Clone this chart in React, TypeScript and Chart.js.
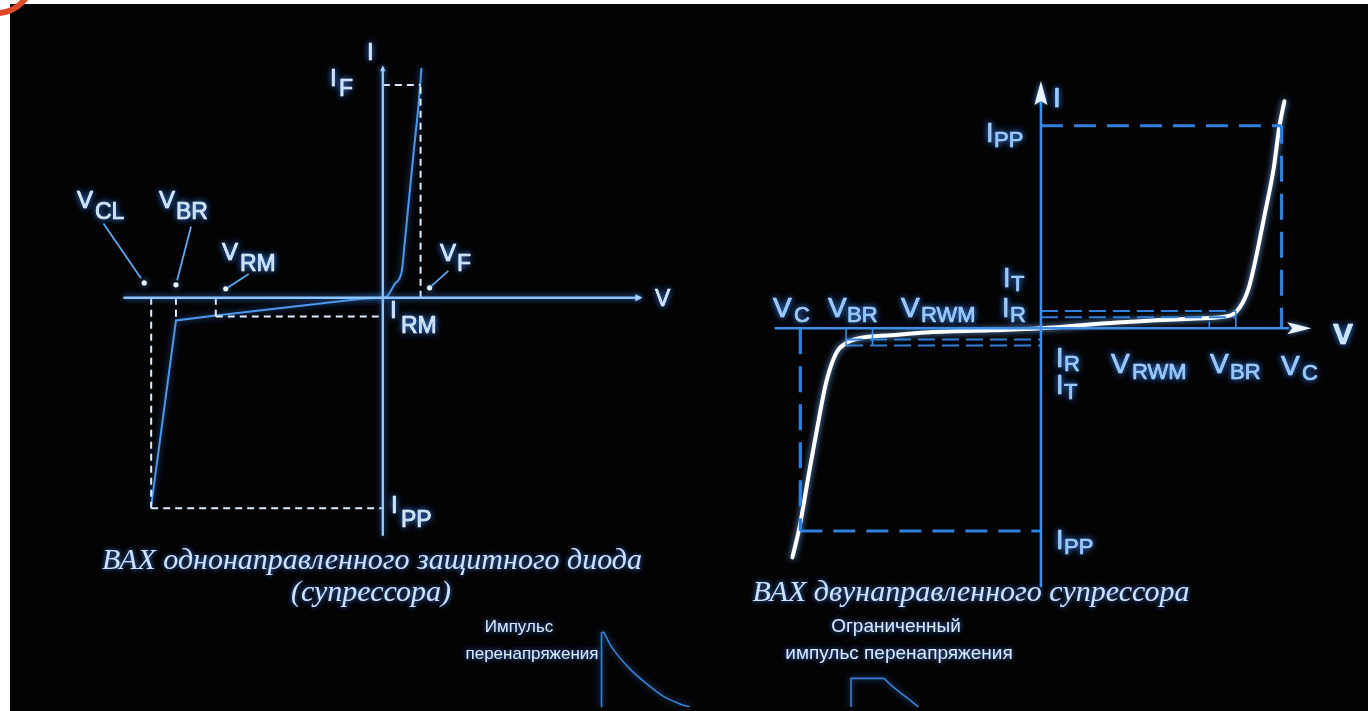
import React, { useEffect, useRef } from "react";
import { Chart, registerables } from "chart.js";

Chart.register(...registerables);

// ---------------- data: unidirectional suppressor (left diagram) ----------------
const uniVoltNames = ["CL", "BR", "RM", "F"];
const uniVoltValues = [-10, -8.93, -7.21, 1.63];
const uniCurrNames = ["F", "RM", "PP"];
const uniCurrValues = [10.1, -0.89, -10];
const uniReverseV = [-10, -8.93, -7.21, -0.9, 0];
const uniReverseI = [-9.9, -1.08, -0.85, -0.05, 0];
const uniForwardV = [0, 0.09, 0.52, 0.82, 0.94, 1.12, 1.33, 1.55, 1.67];
const uniForwardI = [0, 0, 0.66, 1.27, 2.54, 4.55, 6.9, 9.25, 10.9];
const uniDotV = [-10.3, -8.93, -6.78, 2.02];
const uniDotI = [0.7, 0.61, 0.42, 0.47];
const uniLeaderV = [-12.06, -8.28, -5.79, 2.83];
const uniLeaderI = [3.52, 3.38, 1.13, 1.27];
const uniAxisV = [-11.2, 11.12];
const uniAxisI = [-11.3, 10.9];

// ---------------- data: bidirectional suppressor (right diagram) ----------------
const biVoltNames = ["C", "BR", "RWM"];
const biVoltValues = [10, 8.1, 7.0];
const biCurrNames = ["PP", "T", "R"];
const biCurrValues = [10, 0.85, 0.55];
const biCurveV = [-10.33, -10.04, -9.63, -9.21, -8.93, -8.51, -8.1, -7.56, -6.2, -4.8, -2.07, 0, 3.18, 6.49, 7.85, 8.26, 8.64, 8.97, 9.3, 9.67, 9.92, 10.12];
const biCurveI = [-11.3, -9.85, -7.07, -4.34, -2.68, -1.22, -0.73, -0.49, -0.34, -0.2, -0.1, 0, 0.29, 0.49, 0.63, 1.02, 2.0, 3.66, 5.61, 7.85, 10.0, 11.2];
const biAxisV = [-11.07, 11.24];
const biAxisI = [-12.78, 12.1];

// ---------------- data: surge pulses ----------------
const surgeRiseT = [0, 0, 0.2];
const surgeRiseA = [0, 7.5, 7.6];
const surgeDecayT = [0.2, 1.2, 2.9, 4.6, 6.2, 7.9, 8.9];
const surgeDecayA = [7.6, 5.8, 3.8, 2.3, 1.1, 0.3, 0];
const clampRiseT = [0, 0, 3.3];
const clampRiseA = [-1, 2.9, 2.9];
const clampDecayT = [3.3, 4.5, 5.8, 6.8];
const clampDecayA = [2.9, 1.8, 0.8, 0];

// ---------------- layout ----------------
const PAGE_W = 1368;
const PAGE_H = 711;
const OFFX = 10;
const OFFY = 4;
const W = PAGE_W - OFFX;
const H = PAGE_H - OFFY;

const spanX = (originPage: number, ppu: number) => {
  const o = originPage - OFFX;
  return { min: -o / ppu, max: (W - o) / ppu };
};
const spanY = (originPage: number, ppu: number) => {
  const o = originPage - OFFY;
  return { min: -(H - o) / ppu, max: o / ppu };
};

type Lab = { t: string; s?: string; x: number; y: number; sx?: number; sy?: number; size: number; sub?: number; bold?: boolean; color: string };

const LC = "#e4f1ff";
const RC = "#a9d3ff";
const labels: Lab[] = [
  // left diagram
  { t: "I", x: 367, y: 60, size: 24, color: LC },
  { t: "I", s: "F", x: 330, y: 86, sx: 339, sy: 96, size: 24, sub: 23, color: LC },
  { t: "V", s: "CL", x: 77, y: 208, sx: 95, sy: 219, size: 24, sub: 23, color: LC },
  { t: "V", s: "BR", x: 159, y: 208, sx: 176, sy: 219, size: 24, sub: 23, color: LC },
  { t: "V", s: "RM", x: 222, y: 260, sx: 240, sy: 271, size: 24, sub: 23, color: LC },
  { t: "V", s: "F", x: 440, y: 261, sx: 457, sy: 271, size: 24, sub: 23, color: LC },
  { t: "I", s: "RM", x: 390, y: 318, sx: 401, sy: 333, size: 24, sub: 23, color: LC },
  { t: "I", s: "PP", x: 391, y: 513, sx: 401, sy: 527, size: 24, sub: 23, color: LC },
  { t: "V", x: 655, y: 306, size: 23, color: LC },
  // right diagram
  { t: "I", x: 1053, y: 107, size: 28, color: RC },
  { t: "I", s: "PP", x: 986, y: 142, sx: 994, sy: 147, size: 27, sub: 22, color: RC },
  { t: "I", s: "T", x: 1003, y: 287, sx: 1011, sy: 291, size: 27, sub: 22, color: RC },
  { t: "I", s: "R", x: 1002, y: 317, sx: 1010, sy: 322, size: 27, sub: 22, color: RC },
  { t: "V", s: "C", x: 773, y: 317, sx: 794, sy: 322, size: 28, sub: 22, color: RC },
  { t: "V", s: "BR", x: 828, y: 317, sx: 847, sy: 322, size: 28, sub: 22, color: RC },
  { t: "V", s: "RWM", x: 901, y: 317, sx: 921, sy: 322, size: 28, sub: 22, color: RC },
  { t: "I", s: "R", x: 1056, y: 367, sx: 1064, sy: 371, size: 27, sub: 22, color: RC },
  { t: "I", s: "T", x: 1056, y: 394, sx: 1064, sy: 399, size: 27, sub: 22, color: RC },
  { t: "V", s: "RWM", x: 1111, y: 373, sx: 1132, sy: 379, size: 28, sub: 22, color: RC },
  { t: "V", s: "BR", x: 1210, y: 373, sx: 1230, sy: 379, size: 28, sub: 22, color: RC },
  { t: "V", s: "C", x: 1281, y: 375, sx: 1302, sy: 380, size: 28, sub: 22, color: RC },
  { t: "V", x: 1333, y: 344, size: 30, bold: true, color: "#dff0ff" },
  { t: "I", s: "PP", x: 1056, y: 549, sx: 1064, sy: 554, size: 27, sub: 22, color: RC },
];

type Cap = { t: string; x: number; y: number; font: string; color: string };
const captions: Cap[] = [
  { t: "ВАХ однонаправленного защитного диода", x: 372, y: 569, font: 'italic 30px "Liberation Serif"', color: "#cfe2ff" },
  { t: "(супрессора)", x: 371, y: 601, font: 'italic 30px "Liberation Serif"', color: "#cfe2ff" },
  { t: "ВАХ двунаправленного супрессора", x: 971, y: 601, font: 'italic 30px "Liberation Serif"', color: "#cfe2ff" },
  { t: "Импульс", x: 519, y: 632, font: '17px "Liberation Sans"', color: "#dce9ff" },
  { t: "перенапряжения", x: 532, y: 659, font: '17px "Liberation Sans"', color: "#dce9ff" },
  { t: "Ограниченный", x: 896, y: 632, font: '19px "Liberation Sans"', color: "#dce9ff" },
  { t: "импульс перенапряжения", x: 899, y: 659, font: '19px "Liberation Sans"', color: "#dce9ff" },
];

const pts = (xs: number[], ys: number[]) => xs.map((x, i) => ({ x, y: ys[i] }));
const seg = (x1: number, y1: number, x2: number, y2: number) => [{ x: x1, y: y1 }, { x: x2, y: y2 }];

function line(data: any[], xa: string, ya: string, color: string, width: number, extra: any = {}) {
  return { data, xAxisID: xa, yAxisID: ya, borderColor: color, borderWidth: width, showLine: true, pointRadius: 0, fill: false, tension: 0, ...extra };
}

function buildDatasets() {
  const ds: any[] = [];
  const L = ["xL", "yL"];
  const R = ["xR", "yR"];
  const dashL = { borderDash: [7, 5] };
  const dashColL = "#dcecff";
  // left axes
  ds.push(line(seg(uniAxisV[0], 0, uniAxisV[1], 0), L[0], L[1], "#8cc6ff", 2.4, { glow: "rgba(70,150,255,0.8)" }));
  ds.push(line(seg(0, uniAxisI[0], 0, uniAxisI[1]), L[0], L[1], "#8cc6ff", 2.4, { glow: "rgba(70,150,255,0.8)" }));
  // left dashed guides
  const [vcl, vbr, vrm, vf] = uniVoltValues;
  const [iF, iRM, iPP] = uniCurrValues;
  ds.push(line(seg(vcl, 0, vcl, iPP), L[0], L[1], dashColL, 2, dashL));
  ds.push(line(seg(vcl, iPP, 0, iPP), L[0], L[1], dashColL, 2, dashL));
  ds.push(line(seg(vbr, 0, vbr, uniReverseI[1]), L[0], L[1], dashColL, 2, dashL));
  ds.push(line(seg(vrm, 0, vrm, iRM), L[0], L[1], dashColL, 2, dashL));
  ds.push(line(seg(vrm, iRM, 0, iRM), L[0], L[1], dashColL, 2, dashL));
  ds.push(line(seg(vf, 0, vf, iF), L[0], L[1], dashColL, 2, dashL));
  ds.push(line(seg(0, iF, vf, iF), L[0], L[1], dashColL, 2, dashL));
  // left curve
  ds.push(line(pts(uniReverseV, uniReverseI), L[0], L[1], "#4f97ec", 2, { glow: "rgba(60,140,255,0.7)" }));
  ds.push(line(pts(uniForwardV, uniForwardI), L[0], L[1], "#4f97ec", 2, { cubicInterpolationMode: "monotone", glow: "rgba(60,140,255,0.7)" }));
  // callouts
  uniDotV.forEach((v, i) => {
    ds.push(line(seg(uniLeaderV[i], uniLeaderI[i], v + (uniLeaderV[i] - v) * 0.08, uniDotI[i] + (uniLeaderI[i] - uniDotI[i]) * 0.08), L[0], L[1], "#5da9f2", 1.8));
  });
  ds.push({ data: pts(uniDotV, uniDotI), xAxisID: L[0], yAxisID: L[1], showLine: false, pointRadius: 2.6, pointBorderWidth: 0, pointBackgroundColor: "#e8f4ff", glow: "rgba(90,160,255,0.9)" });

  // right axes
  ds.push(line(seg(biAxisV[0], 0, 10.3, 0), R[0], R[1], "#3d8fea", 2.5));
  ds.push(line(seg(0, biAxisI[0], 0, 11.2), R[0], R[1], "#3d8fea", 2.5));
  const [vc, vbrR, vrwm] = biVoltValues;
  const [ipp, it, ir] = biCurrValues;
  const bigDash = { borderDash: [22, 11] };
  const smallDash = { borderDash: [17, 7] };
  const dashColR = "#2f80db";
  // I_PP / V_C frame
  ds.push(line(seg(0, ipp, vc, ipp), R[0], R[1], dashColR, 3, bigDash));
  ds.push(line(seg(vc, ipp, vc, 0), R[0], R[1], dashColR, 3.2, { borderDash: [26, 12], borderDashOffset: 8 }));
  ds.push(line(seg(-vc, 0, -vc, -ipp), R[0], R[1], dashColR, 3.2, { borderDash: [26, 12] }));
  ds.push(line(seg(-vc, -ipp, 0, -ipp), R[0], R[1], dashColR, 3, bigDash));
  // I_T, I_R
  ds.push(line(seg(0, it, vbrR, it), R[0], R[1], dashColR, 2, smallDash));
  ds.push(line(seg(0, ir, vbrR, ir), R[0], R[1], dashColR, 2, smallDash));
  ds.push(line(seg(-vbrR, -it, 0, -it), R[0], R[1], dashColR, 2, smallDash));
  ds.push(line(seg(-vbrR, -ir, 0, -ir), R[0], R[1], dashColR, 2, smallDash));
  // voltage ticks
  ds.push(line(seg(vbrR, 0, vbrR, it), R[0], R[1], "#3d8fea", 1.6));
  ds.push(line(seg(vrwm, 0, vrwm, ir * 0.6), R[0], R[1], "#3d8fea", 1.6));
  ds.push(line(seg(-vbrR, 0, -vbrR, -it), R[0], R[1], "#3d8fea", 1.6));
  ds.push(line(seg(-vrwm, 0, -vrwm, -it), R[0], R[1], "#3d8fea", 1.6));
  // curve
  ds.push(line(pts(biCurveV, biCurveI), R[0], R[1], "#ffffff", 4, { cubicInterpolationMode: "monotone", borderCapStyle: "round", glow: "rgba(120,180,255,0.9)" }));

  // pulses
  const pc = "#3a7fd3";
  ds.push(line(pts(surgeRiseT, surgeRiseA), "xP", "yP", pc, 1.6, { glow: "rgba(60,130,230,0.8)" }));
  ds.push(line(pts(surgeDecayT, surgeDecayA), "xP", "yP", pc, 1.6, { tension: 0.35, glow: "rgba(60,130,230,0.8)" }));
  ds.push(line(pts(clampRiseT, clampRiseA), "xQ", "yP", pc, 1.6, { glow: "rgba(60,130,230,0.8)" }));
  ds.push(line(pts(clampDecayT, clampDecayA), "xQ", "yP", pc, 1.6, { tension: 0.35, glow: "rgba(60,130,230,0.8)" }));
  return ds;
}

const decoPlugin = {
  id: "deco",
  beforeDraw(chart: any) {
    const ctx = chart.ctx;
    ctx.save();
    ctx.fillStyle = "#030304";
    ctx.fillRect(0, 0, chart.width, chart.height);
    ctx.restore();
  },
  beforeDatasetDraw(chart: any, args: any) {
    const ds = chart.data.datasets[args.index];
    chart.ctx.save();
    if (ds.glow) {
      chart.ctx.shadowColor = ds.glow;
      chart.ctx.shadowBlur = 6;
    }
  },
  afterDatasetDraw(chart: any) {
    chart.ctx.restore();
  },
  afterDatasetsDraw(chart: any) {
    const ctx = chart.ctx;
    const s = chart.scales;
    const px = (ax: string, v: number) => s[ax].getPixelForValue(v);
    ctx.save();
    // left arrows (small)
    ctx.fillStyle = "#a8d4ff";
    ctx.shadowColor = "rgba(70,150,255,0.8)";
    ctx.shadowBlur = 4;
    let tx = px("xL", uniAxisV[1]);
    let ty = px("yL", 0);
    ctx.beginPath();
    ctx.moveTo(tx + 2, ty);
    ctx.lineTo(tx - 5, ty - 3.5);
    ctx.lineTo(tx - 5, ty + 3.5);
    ctx.closePath();
    ctx.fill();
    tx = px("xL", 0);
    ty = px("yL", uniAxisI[1]);
    ctx.beginPath();
    ctx.moveTo(tx, ty - 3);
    ctx.lineTo(tx - 2.5, ty + 3);
    ctx.lineTo(tx + 2.5, ty + 3);
    ctx.closePath();
    ctx.fill();
    // right arrows
    ctx.fillStyle = "#eaf5ff";
    ctx.shadowColor = "rgba(90,160,255,0.9)";
    ctx.shadowBlur = 5;
    tx = px("xR", biAxisV[1]);
    ty = px("yR", 0);
    ctx.beginPath();
    ctx.moveTo(tx, ty);
    ctx.lineTo(tx - 24, ty - 6);
    ctx.lineTo(tx - 19, ty);
    ctx.lineTo(tx - 24, ty + 6);
    ctx.closePath();
    ctx.fill();
    tx = px("xR", 0);
    ty = px("yR", biAxisI[1]);
    ctx.beginPath();
    ctx.moveTo(tx, ty - 2);
    ctx.lineTo(tx - 6.5, ty + 22);
    ctx.lineTo(tx, ty + 18);
    ctx.lineTo(tx + 6.5, ty + 22);
    ctx.closePath();
    ctx.fill();
    ctx.restore();

    // labels
    ctx.save();
    ctx.textBaseline = "alphabetic";
    ctx.textAlign = "left";
    ctx.lineJoin = "round";
    for (const l of labels) {
      ctx.fillStyle = l.color;
      ctx.strokeStyle = l.color;
      ctx.lineWidth = 0.7;
      ctx.shadowColor = "rgba(60,140,255,0.95)";
      ctx.shadowBlur = 6;
      ctx.font = `${l.bold ? "bold " : ""}${l.size}px "Liberation Sans"`;
      ctx.fillText(l.t, l.x - OFFX, l.y - OFFY);
      ctx.strokeText(l.t, l.x - OFFX, l.y - OFFY);
      if (l.s) {
        ctx.font = `${l.sub}px "Liberation Sans"`;
        ctx.fillText(l.s, (l.sx as number) - OFFX, (l.sy as number) - OFFY);
        ctx.strokeText(l.s, (l.sx as number) - OFFX, (l.sy as number) - OFFY);
      }
    }
    ctx.textAlign = "center";
    for (const c of captions) {
      ctx.fillStyle = c.color;
      ctx.shadowColor = "rgba(70,140,255,0.9)";
      ctx.shadowBlur = 5;
      ctx.font = c.font;
      ctx.fillText(c.t, c.x - OFFX, c.y - OFFY);
    }
    ctx.restore();
  },
};

export default function App() {
  const ref = useRef<HTMLCanvasElement | null>(null);
  useEffect(() => {
    if (!ref.current) return;
    const chart = new Chart(ref.current, {
      type: "scatter",
      data: { datasets: buildDatasets() },
      options: {
        animation: false,
        responsive: false,
        events: [],
        layout: { padding: 0 },
        plugins: { legend: { display: false }, tooltip: { enabled: false }, title: { display: false } },
        scales: {
          xL: { type: "linear", display: false, ...spanX(381, 23.3) },
          yL: { type: "linear", display: false, ...spanY(297, 21.3) },
          xR: { type: "linear", display: false, ...spanX(1043, 24.2) },
          yR: { type: "linear", display: false, ...spanY(328, 20.5) },
          xP: { type: "linear", display: false, ...spanX(601, 10) },
          xQ: { type: "linear", display: false, ...spanX(852, 10) },
          yP: { type: "linear", display: false, ...spanY(711, 10) },
        },
      } as any,
      plugins: [decoPlugin],
    });
    return () => chart.destroy();
  }, []);

  return (
    <div style={{ position: "fixed", left: 0, top: 0, width: PAGE_W, height: PAGE_H, background: "#ffffff", overflow: "hidden" }}>
      <div style={{ position: "absolute", left: OFFX, top: OFFY, width: W, height: H, background: "#030304" }}>
        <canvas ref={ref} width={W} height={H} style={{ display: "block", width: W, height: H }} />
      </div>
      <div
        style={{
          position: "absolute",
          left: -41,
          top: -60,
          width: 76,
          height: 76,
          boxSizing: "border-box",
          border: "6px solid #dc4a2a",
          borderRadius: "50%",
        }}
      />
    </div>
  );
}
